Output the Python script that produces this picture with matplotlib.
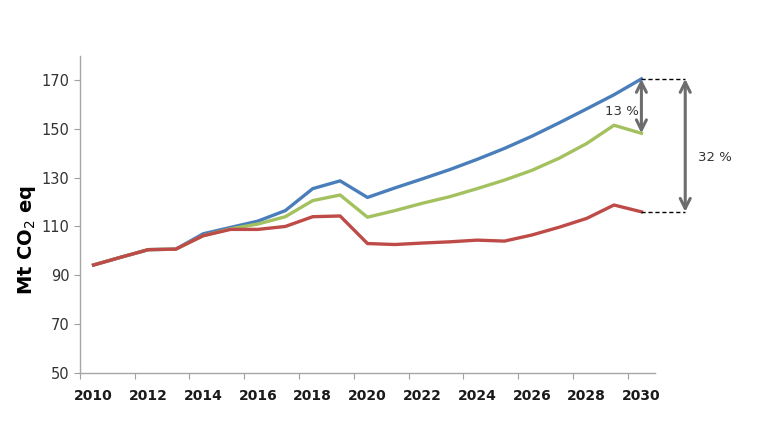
import matplotlib.pyplot as plt
import numpy as np

years = list(range(2010, 2031))
blue = [94.2, 97.4, 100.5, 100.7, 107.0, 109.6, 112.2, 116.5, 125.5, 128.7, 121.9,
        125.8, 129.5, 133.3, 137.5, 142.0, 147.0, 152.5, 158.2, 164.0, 170.5]
green = [94.2, 97.4, 100.5, 100.7, 106.2, 109.0, 111.0, 114.0, 120.6, 122.9, 113.8,
         116.5, 119.5, 122.2, 125.5, 129.0, 133.0, 138.0, 144.0, 151.5, 148.2]
red = [94.2, 97.4, 100.5, 100.7, 106.2, 108.8, 108.8, 110.0, 114.0, 114.3, 103.0,
       102.6, 103.2, 103.7, 104.4, 104.0, 106.5, 109.7, 113.3, 118.8, 116.0]
tick_labels = [str(y) for y in range(2010, 2031, 2)]

fig = plt.figure(figsize=(7.68, 4.32), dpi=100)
ax = fig.add_axes([0.104, 0.137, 0.749, 0.734])

ax.plot(years, blue, color="#4a7ebb", lw=2.4, solid_joinstyle="round")
ax.plot(years, green, color="#a4c160", lw=2.4, solid_joinstyle="round")
ax.plot(years, red, color="#be4b48", lw=2.4, solid_joinstyle="round")

ax.set_xlim(2009.5, 2030.5)
ax.set_ylim(50, 180)
ax.set_yticks(range(50, 171, 20))
ax.set_xticks(np.arange(2009.5, 2030.6, 2))
ax.set_xticklabels([])
ax.set_xticks(range(2010, 2031, 2), minor=True)
ax.set_xticklabels(tick_labels, minor=True, fontsize=10, fontweight="bold", color="#1a1a1a")
ax.tick_params(axis="x", which="minor", length=0, pad=12)
ax.tick_params(axis="x", which="major", length=4, color="#a0a0a0")
ax.tick_params(axis="y", length=4, color="#a0a0a0", labelsize=10.5, labelcolor="#333333")

for side in ["top", "right"]:
    ax.spines[side].set_visible(False)
for side in ["left", "bottom"]:
    ax.spines[side].set_color("#a6a6a6")
    ax.spines[side].set_linewidth(1)

ax.set_ylabel("Mt CO$_2$ eq", fontsize=14, fontweight="bold")
ax.yaxis.set_label_coords(-0.072, 0.42)

# anotacoes de diferenca
x_fim = years[-1]
x_seta2 = 2031.6
cinza = "#6d6d6d"
ax.plot([x_fim, x_seta2], [blue[-1], blue[-1]], ls=(0, (3, 2)), color="black", lw=1, clip_on=False)
ax.plot([x_fim, x_seta2], [red[-1], red[-1]], ls=(0, (3, 2)), color="black", lw=1, clip_on=False)
ax.annotate("", xy=(x_fim, green[-1]), xytext=(x_fim, blue[-1]), annotation_clip=False,
            arrowprops=dict(arrowstyle="<->", color=cinza, lw=2.2, mutation_scale=18,
                            shrinkA=0, shrinkB=0))
ax.annotate("", xy=(x_seta2, red[-1]), xytext=(x_seta2, blue[-1]), annotation_clip=False,
            arrowprops=dict(arrowstyle="<->", color=cinza, lw=2.2, mutation_scale=18,
                            shrinkA=0, shrinkB=0))
ax.text(2029.3, 157.3, "13 %", ha="center", va="center", fontsize=9.5, color="#333333")
ax.text(2032.7, 138.4, "32 %", ha="center", va="center", fontsize=9.5, color="#333333",
        clip_on=False)

fig.savefig("out.png", dpi=100)
